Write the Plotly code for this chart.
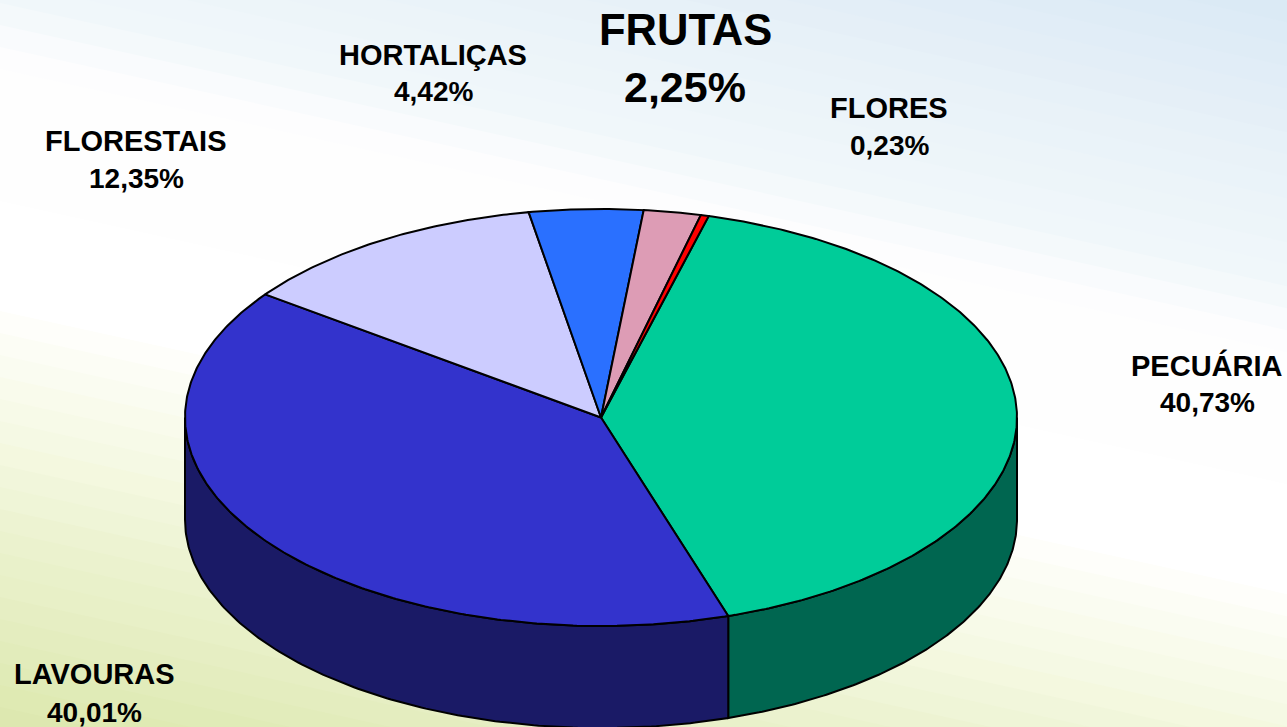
import numpy as np
import plotly.graph_objects as go

# --- data (clockwise from the PECUÁRIA edge) ---
categories = ["PECUÁRIA", "LAVOURAS", "FLORESTAIS", "HORTALIÇAS", "FRUTAS", "FLORES"]
values = [40.73, 40.01, 12.35, 4.42, 2.25, 0.23]          # printed on the labels
drawn_shares = [40.89, 40.0, 12.17, 4.42, 2.22, 0.31]     # slice sizes

# --- styles ---
top_colors = ["#00CC99", "#3333CC", "#CCCCFF", "#2A70FF", "#DD9CB5", "#FF0000"]
side_colors = ["#006650", "#1A1A66", "#66667F", "#153880", "#6E4E5A", "#800000"]
label_x = [1207, 94, 136, 433, 685, 889]
label_y1 = [365, 674, 141, 55, 30, 108]
label_y2 = [402, 712, 178, 91, 87, 145]
name_size = [29, 29, 29, 29, 43.5, 29]
pct_size = [28, 28, 28, 28, 43, 28]

W, H = 1287, 727
CX, CY, RX, RY, DEPTH = 601, 417.5, 416, 208.5, 102
START_DEG = 15.0
SLOPE = 0.22

bg_t = [-283, -132, 0, 50, 80, 300, 320, 450, 521, 727]
bg_c = [(218, 233, 245), (232, 241, 248), (241, 247, 250), (252, 253, 254), (254, 254, 254),
        (255, 255, 255), (254, 254, 250), (244, 248, 224), (237, 243, 210), (220, 232, 174)]


def project(deg, r=1.0, drop=0.0):
    a = np.radians(deg)
    return CX + RX * r * np.sin(a), CY - RY * r * np.cos(a) + drop


fig = go.Figure()

# background bands, painter-style so no seams show
shapes = []
step = 22
for t in np.arange(bg_t[0], bg_t[-1] + step, step):
    rgb = [int(round(np.interp(t + step / 2, bg_t, [c[i] for c in bg_c]))) for i in range(3)]
    yl, yr = t, t + SLOPE * W
    shapes.append(dict(type="path", layer="below", line_width=0,
                       fillcolor=f"rgb({rgb[0]},{rgb[1]},{rgb[2]})",
                       path=f"M 0 {yl} L {W} {yr} L {W} {max(H, yr) + 5} L 0 {max(H, yr) + 5} Z"))

total = sum(drawn_shares)
edges = START_DEG + np.concatenate([[0], np.cumsum(drawn_shares)]) / total * 360

# side walls (only the front half of the disc is visible)
for i, cat in enumerate(categories):
    lo, hi = max(edges[i], 90), min(edges[i + 1], 270)
    if lo >= hi:
        continue
    ang = np.linspace(lo, hi, 160)
    xt, yt = project(ang)
    xb, yb = project(ang, drop=DEPTH)
    fig.add_trace(go.Scatter(x=np.r_[xt, xb[::-1], xt[0]], y=np.r_[yt, yb[::-1], yt[0]],
                             mode="lines", fill="toself", fillcolor=side_colors[i],
                             line=dict(color="black", width=2), hoverinfo="skip"))

# top faces
for i, cat in enumerate(categories):
    ang = np.linspace(edges[i], edges[i + 1], max(6, int((edges[i + 1] - edges[i]) * 2)))
    xs, ys = project(ang)
    fig.add_trace(go.Scatter(x=np.r_[CX, xs, CX], y=np.r_[CY, ys, CY],
                             mode="lines", fill="toself", fillcolor=top_colors[i],
                             line=dict(color="black", width=2),
                             name=cat, text=f"{cat}: {values[i]:.2f}%".replace(".", ","), hoverinfo="text"))

annotations = []
for i, cat in enumerate(categories):
    pct = f"{values[i]:.2f}%".replace(".", ",")
    for txt, yy, sz in ((cat, label_y1[i], name_size[i]), (pct, label_y2[i], pct_size[i])):
        annotations.append(dict(x=label_x[i], y=yy, xref="x", yref="y", text=f"<b>{txt}</b>",
                                showarrow=False, xanchor="center", yanchor="middle",
                                font=dict(family="Liberation Sans", size=sz, color="black")))

fig.update_layout(width=W, height=H, autosize=False, margin=dict(l=0, r=0, t=0, b=0, pad=0),
                  paper_bgcolor="white", plot_bgcolor="rgba(0,0,0,0)", showlegend=False,
                  xaxis=dict(range=[0, W], visible=False, fixedrange=True),
                  yaxis=dict(range=[H, 0], visible=False, fixedrange=True),
                  shapes=shapes, annotations=annotations)
fig.write_html("out.html", config={"displayModeBar": False},
               default_width=f"{W}px", default_height=f"{H}px",
               post_script="document.body.style.margin='0';")
